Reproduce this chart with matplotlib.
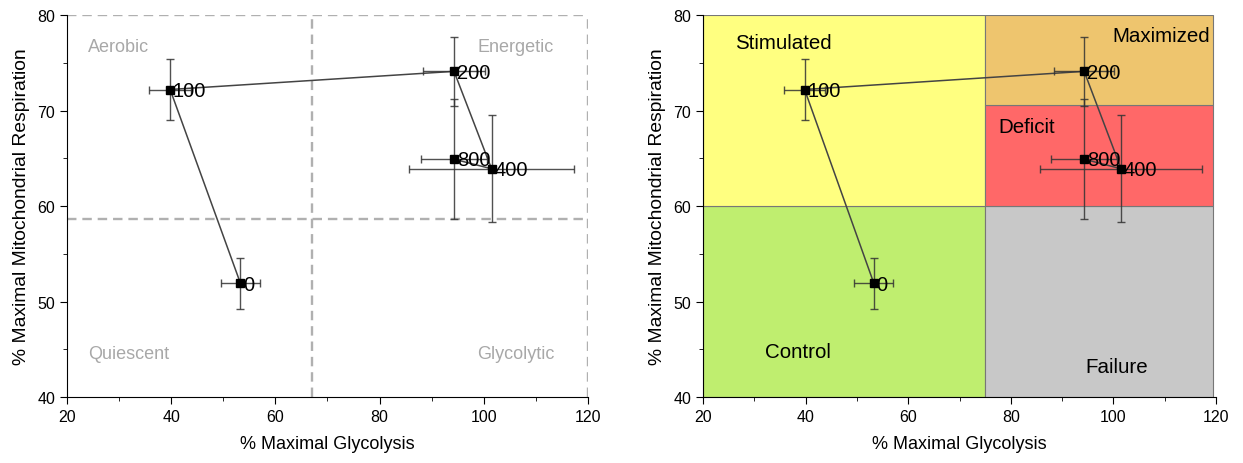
import matplotlib
matplotlib.use('Agg')
import matplotlib.pyplot as plt
from matplotlib.patches import Rectangle
from matplotlib.ticker import MultipleLocator

plt.rcParams["font.family"] = ["Liberation Sans", "DejaVu Sans"]

# Data (dose order, connected by line)
doses = ["0", "100", "200", "400", "800"]
glyco = [53.3, 39.8, 94.3, 101.5, 94.3]
glyco_err = [3.8, 4.0, 5.9, 15.8, 6.4]
resp = [51.9, 72.2, 74.1, 63.9, 64.9]
resp_err = [2.7, 3.2, 3.6, 5.6, 6.3]

# Quadrant split for left panel
split_x = 67.1
split_y = 58.6
quad_labels = ["Aerobic", "Energetic", "Quiescent", "Glycolytic"]

# Zones for right panel: (label, x0, x1, y0, y1, colour)
zone_names = ["Control", "Stimulated", "Failure", "Deficit", "Maximized"]
zone_x = [(20, 75), (20, 75), (75, 119.5), (75, 119.5), (75, 119.5)]
zone_y = [(40, 60), (60, 80), (40, 60), (60, 70.6), (70.6, 80)]
zone_colors = ["#bfee6f", "#ffff80", "#c8c8c8", "#ff6868", "#eec56e"]

fig = plt.figure(figsize=(12.43, 4.64), dpi=100)
ax1 = fig.add_axes([0.0539, 0.1422, 0.4191, 0.8233])
ax2 = fig.add_axes([0.5656, 0.1422, 0.4127, 0.8233])


def draw_data(ax):
    ax.plot(glyco, resp, color='#444444', lw=1.1, zorder=3)
    ax.errorbar(glyco, resp, xerr=glyco_err, yerr=resp_err, fmt='none',
                ecolor='#333333', elinewidth=1, capsize=2.7, capthick=1,
                alpha=0.85, zorder=3)
    ax.plot(glyco, resp, 's', color='black', ms=5.5, zorder=4)
    for d, x, y in zip(doses, glyco, resp):
        ax.annotate(d, (x, y), xytext=(2, -0.5), textcoords='offset points',
                    va='center', ha='left', fontsize=14.5, zorder=5)


def style_axes(ax):
    ax.set_xlim(20, 120)
    ax.set_ylim(40, 80)
    ax.xaxis.set_major_locator(MultipleLocator(20))
    ax.xaxis.set_minor_locator(MultipleLocator(10))
    ax.yaxis.set_major_locator(MultipleLocator(10))
    ax.yaxis.set_minor_locator(MultipleLocator(5))
    ax.tick_params(which='major', length=5, labelsize=11.5, direction='out')
    ax.tick_params(which='minor', length=3, direction='out')
    ax.spines['top'].set_visible(False)
    ax.spines['right'].set_visible(False)
    ax.set_xlabel('% Maximal Glycolysis', fontsize=13, labelpad=8)
    ax.set_ylabel('% Maximal Mitochondrial Respiration', fontsize=13.9, labelpad=5)


# - Left panel: quadrants
style_axes(ax1)
dash = dict(color='#b0b0b0', ls=(0, (4, 2.5)), lw=1.7, zorder=1)
ax1.axvline(split_x, **dash)
ax1.axhline(split_y, **dash)
ax1.axhline(80, **dash)
ax1.axvline(120, **dash)
grey = '#a8a8a8'
ax1.text(24, 76.7, quad_labels[0], color=grey, fontsize=13, va='center')
ax1.text(113.5, 76.7, quad_labels[1], color=grey, fontsize=13, va='center', ha='right')
ax1.text(24, 44.6, quad_labels[2], color=grey, fontsize=13, va='center')
ax1.text(113.5, 44.6, quad_labels[3], color=grey, fontsize=13, va='center', ha='right')
draw_data(ax1)

# - Right panel: coloured zones
style_axes(ax2)
for name, (x0, x1), (y0, y1), c in zip(zone_names, zone_x, zone_y, zone_colors):
    ax2.add_patch(Rectangle((x0, y0), x1 - x0, y1 - y0, facecolor=c,
                            edgecolor='#777777', lw=0.8, zorder=0))
ax2.text(26.2, 77.1, zone_names[1], fontsize=14.8, va='center')
ax2.text(118.8, 77.9, zone_names[4], fontsize=14.8, va='center', ha='right')
ax2.text(77.5, 68.3, zone_names[3], fontsize=14.8, va='center')
ax2.text(32.1, 44.8, zone_names[0], fontsize=14.8, va='center')
ax2.text(94.5, 43.2, zone_names[2], fontsize=14.8, va='center')
draw_data(ax2)

fig.savefig('out.png', dpi=100)
